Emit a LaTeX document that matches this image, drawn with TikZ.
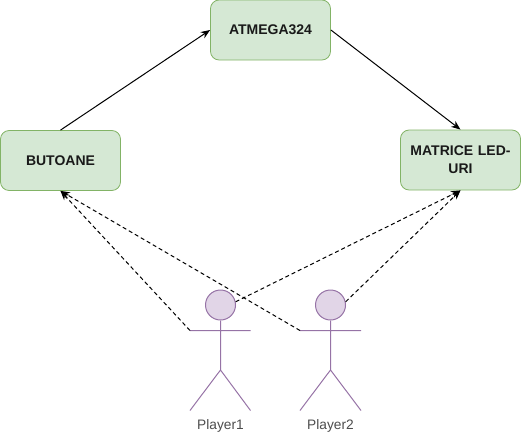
\documentclass[tikz,border=0pt]{standalone}
\usepackage{fontspec}
\setmainfont{Liberation Sans}
\usetikzlibrary{arrows.meta}
\definecolor{boxfill}{HTML}{D5E8D4}
\definecolor{boxline}{HTML}{82B366}
\definecolor{actfill}{HTML}{E1D5E7}
\definecolor{actline}{HTML}{9673A6}
\tikzset{
  x=0.75pt,y=-0.75pt,
  boxnode/.style={draw=boxline,fill=boxfill,rounded corners=6.5pt,line width=0.6pt,minimum width=90pt,minimum height=45pt,inner sep=0pt,align=center,text width=84pt,font=\fontsize{10.5}{13.5}\selectfont\bfseries,text=black!90},
  headnode/.style={circle,draw=actline,fill=actfill,line width=0.75pt,minimum size=22.5pt,inner sep=0pt},
  limb/.style={draw=actline,line width=0.75pt},
  actlabel/.style={font=\fontsize{10.3}{12}\selectfont,text=black!70,inner sep=0pt},
  solidlink/.style={draw=black,line width=0.75pt,-{Stealth[length=7pt,width=5.5pt]}},
  dashlink/.style={draw=black,line width=0.75pt,dash pattern=on 3pt off 2.2pt,-{Stealth[length=7pt,width=5.5pt]}}
}
\begin{document}
\begin{tikzpicture}
\useasboundingbox (0,0) rectangle (521,433);
\node[boxnode] (mcu) at (270.5,30) {ATMEGA324};
\node[boxnode] (btn) at (60.5,160.5) {BUTOANE};
\node[boxnode] (led) at (460.5,160) {MATRICE LED-\\URI};
% actor 1
\node[headnode] (h1) at (220.5,305) {};
\coordinate (n1) at (220.5,370);
\coordinate (la1) at (190,330.5);
\coordinate (ra1) at (250.5,330.5);
\coordinate (ll1) at (190,410.5);
\coordinate (rl1) at (250.5,410.5);
\draw[limb] (h1.south) -- (n1) (la1) -- (ra1) (ll1) -- (n1) -- (rl1);
\node[actlabel] (p1) at (220.5,425.5) {Player1};
% actor 2
\node[headnode] (h2) at (330.5,305) {};
\coordinate (n2) at (330.5,370);
\coordinate (la2) at (300,330.5);
\coordinate (ra2) at (361,330.5);
\coordinate (ll2) at (300,410.5);
\coordinate (rl2) at (361,410.5);
\draw[limb] (h2.south) -- (n2) (la2) -- (ra2) (ll2) -- (n2) -- (rl2);
\node[actlabel] (p2) at (330.5,425.5) {Player2};
% links
\draw[solidlink] (btn.north) -- (mcu.west);
\draw[solidlink] (mcu.east) -- (led.north);
\draw[dashlink] (la1) -- (btn.south);
\draw[dashlink] (la2) -- (btn.south);
\draw[dashlink] (h1.12) -- (led.south);
\draw[dashlink] (h2.12) -- (led.south);
\end{tikzpicture}
\end{document}
